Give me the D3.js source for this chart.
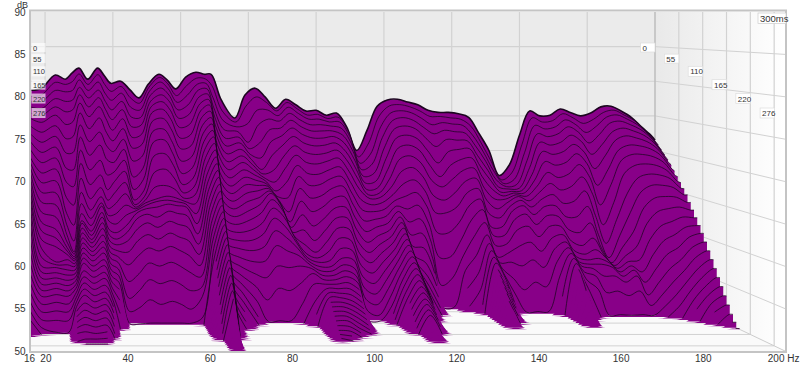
<!DOCTYPE html>
<html>

<head>
    <title>waterfall</title>
    <style>
        * {
            margin: 0;
            padding: 0;
        }
        body {
            background: #fff;
            overflow: hidden;
        }
        text {
            font-family: "Liberation Sans", Arial, sans-serif;
            fill: #333;
        }
    </style>
    <script src="https://cdn.jsdelivr.net/npm/d3@7"></script>
</head>

<body>
    <div id="chart"></div>

    <script>
        var dbTicks = [50, 55, 60, 65, 70, 75, 80, 85, 90];
        var freqTicks = [16, 20, 40, 60, 80, 100, 120, 140, 160, 180, 200];
        var gridFreqs = [20, 40, 60, 80, 100, 120, 140, 160, 180];
        var timeLabels = [0, 55, 110, 165, 220, 276];
        var sliceCount = 41;
        var freqs = [16, 19, 23, 26, 28, 30, 32.6, 35.5, 37.5, 39.4, 42.3, 45, 47.7, 50.5, 53.6, 56, 58.6, 61.5, 64.5, 67, 69, 72, 76, 79, 82, 85, 88, 91, 94, 97, 100, 103, 106, 109, 112, 115, 118, 121, 124, 127, 130, 133, 136, 139, 142, 145, 148, 151, 154, 157, 160, 163, 166, 169, 172, 175, 178, 181, 184, 187, 190, 193, 196, 199, 200];

        // one row per frequency, dB for each slice back to front, row stops when it drops under the floor
        var decayByFreq = [
            [78.7, 77.9, 77.2, 76.5, 75.7, 75, 74, 73, 72, 71, 70, 69.4, 68.8, 68.2, 67.6, 67, 66.4, 65.8, 65.2, 64.6, 64, 62.6, 61, 59.5, 58.2, 57, 56, 55, 54, 53, 52, 50.3],
            [79, 78.1, 77.2, 76.3, 75.4, 74.5, 73.2, 71.9, 70.6, 69.3, 68, 66.8, 65.6, 64.4, 63.2, 62, 61, 60, 59, 58, 57, 56.4, 55.8, 55.2, 54.6, 54, 53.2, 52.4, 51.6, 50.8, 50.1],
            [80.9, 79.9, 78.8, 77.7, 76.6, 75.5, 74.1, 72.7, 71.3, 69.9, 68.5, 67, 65.5, 64, 62.5, 61, 60, 59, 57.2, 57, 56.8, 56.3, 55.8, 55.3, 54.8, 54.2, 53.4, 52.5, 51.5, 50.2],
            [80.3, 79.6, 78.6, 77.3, 75.9, 74.2, 72.3, 70.4, 68.4, 66.6, 64.6, 62.6, 61.2, 60, 59.2, 58.6, 58.3, 58, 57.5, 57, 56.5, 56, 55.5, 55, 54.5, 54, 53.2, 52.4, 51.5, 50.2],
            [81.2, 80, 78.8, 77.5, 76.2, 74.6, 72.6, 70.5, 68.2, 66, 63.6, 61, 59, 57.7, 57.6, 57.4, 57.3, 57.2, 57, 56.8, 56.5, 56.2, 55.9, 55.6, 55.3, 55, 54.6, 54.2, 53.8, 53.4, 53, 52.5, 52, 51.5, 51, 50.2],
            [81.9, 81.1, 80.3, 79.3, 78.3, 77.2, 75.9, 74.3, 72.7, 71, 69.3, 67.4, 65.6, 64.2, 63, 62.2, 62, 61.5, 61, 60.5, 60, 59.5, 59, 58.5, 58, 57.2, 56.6, 56, 55.4, 54.8, 54, 53.3, 52.6, 51.9, 51.2, 50.5, 50.1],
            [80.3, 79.6, 78.8, 77.8, 76.6, 75.3, 73.7, 72, 70.2, 68.3, 66.4, 64.6, 63.2, 62.2, 61.4, 60.8, 60.4, 60, 59.7, 59.3, 58.9, 58.5, 58, 57.5, 57, 56.4, 55.8, 55.2, 54.6, 54, 53.4, 52.8, 52.2, 51.6, 51, 50.5, 50.1],
            [81.9, 81, 80, 78.9, 77.9, 76.7, 75.2, 73.3, 71.6, 69.6, 67.7, 66.1, 65, 64.3, 64, 63.3, 62.8, 62.2, 61.6, 60.9, 60.2, 59.6, 59, 58.3, 57.7, 57, 56.4, 55.7, 55, 54.4, 53.8, 53.2, 52.5, 51.8, 51.2, 50.6, 50.1],
            [80.8, 79.6, 78.4, 77.3, 76.2, 75, 73.2, 71.4, 69.6, 67.6, 65.7, 64.4, 63.4, 62.6, 62, 61, 60.4, 59.8, 59.2, 58.6, 58, 57.4, 56.8, 56.2, 55.6, 55, 54.4, 53.8, 53.2, 52.6, 52, 51.3, 50.6, 50.1],
            [79.7, 78.6, 77.4, 76.1, 74.8, 73.4, 72, 70.6, 69.2, 68, 66.8, 65.4, 64, 62.8, 61.6, 60.6, 59.9, 59.3, 58.7, 58.1, 57.5, 56.8, 56.1, 55.4, 54.7, 53.5, 52, 50.2],
            [80, 79.3, 78.4, 77.3, 76.2, 75, 73.7, 72.3, 71, 69.6, 68.2, 66.8, 65.4, 64, 62.8, 61.6, 60.8, 59.8, 58.5, 57, 55, 53, 51.5, 50.1],
            [78.8, 77.7, 76.4, 75.1, 73.8, 72.4, 71, 69.3, 67.2, 65.6, 64.3, 63.8, 63.6, 63.5, 63.4, 63.2, 62.6, 61.4, 60, 58.2, 56, 54, 52, 50.1],
            [77.6, 76.9, 76, 75, 74, 72.8, 71.5, 70, 68.4, 67, 65.6, 64.9, 64.5, 64.3, 64.1, 63.8, 63.2, 62.2, 60.8, 59.2, 57.4, 55.4, 53, 50.2],
            [79.6, 79.2, 78.7, 78.1, 77.4, 76.7, 75.9, 74.8, 73.5, 72.1, 70.3, 68.2, 66.3, 64.8, 64.6, 64, 62.8, 61.6, 60.2, 58.8, 57, 54.9, 52.4, 50.2],
            [81, 80.6, 80, 79.2, 78.3, 77.4, 76.4, 75.2, 73.8, 72.4, 70.6, 68.6, 66.5, 65.2, 64.8, 64.4, 63.6, 62.4, 61, 59.4, 57.5, 55.3, 52.8, 50.2],
            [80.2, 79.7, 79, 78.2, 77.3, 76.2, 75, 73.6, 72, 70.5, 69, 67.4, 66, 65, 64.6, 64.2, 63.3, 62, 60.5, 58.9, 57, 54.8, 52.4, 50.2],
            [78.9, 78, 77.1, 76.1, 75, 73.8, 72.4, 71, 69.4, 67.8, 66.4, 65.4, 64.8, 64.5, 64.3, 64, 63, 61.6, 60, 58.2, 56.2, 54, 51.8, 50.2],
            [80.6, 79.4, 78.1, 76.8, 75.5, 74.2, 72.8, 71.4, 70, 68.6, 67.3, 66.2, 65.2, 64.2, 63, 61.8, 60.6, 59.4, 58.2, 56.9, 55.6, 54.4, 53.4, 51, 50.1],
            [81.3, 80.5, 79.7, 78.9, 78, 77.1, 76.2, 75.3, 74.3, 73.3, 72.3, 71.3, 70.3, 69.3, 68.3, 67.4, 66.5, 65.6, 64.7, 63.8, 62.9, 62, 61.1, 60.2, 59.3, 58.4, 57.5, 56.6, 55.7, 54.8, 53.8, 52.8, 51.8, 50.8, 50.1],
            [81, 80.4, 79.8, 79.1, 78.4, 77.7, 77, 76.2, 75.4, 74.6, 73.8, 73, 72.2, 71.4, 70.6, 69.8, 69, 68.2, 67.4, 66.6, 65.8, 65, 64.3, 63.6, 62.9, 62.2, 61.5, 60.8, 60, 59.2, 58.4, 57.6, 56.8, 56, 55.2, 54.4, 53.6, 52.8, 52, 51.2, 50.4],
            [81, 79.4, 77.8, 76.4, 75.2, 74, 72.8, 71.6, 70.4, 69.2, 68, 66.9, 65.8, 64.7, 63.6, 62.5, 61.5, 60.5, 59.6, 58.8, 58, 57.3, 56.6, 55.9, 55.2, 54.5, 53.8, 53.1, 52.5, 51.9, 51.4, 50.9, 50.5, 50.2],
            [77.3, 75.8, 74.5, 73.3, 72.2, 71.2, 70.2, 69.2, 68.2, 67.2, 66.2, 65.3, 64.4, 63.5, 62.6, 61.7, 60.8, 59.9, 59, 58, 57, 56, 55, 54, 53, 52, 51, 50.2],
            [74.7, 74.2, 73.6, 73, 72.3, 71.6, 70.8, 70, 69.2, 68.3, 67.4, 66.5, 65.5, 64.5, 63.4, 62.3, 61.1, 59.9, 58.7, 57.4, 56, 54.5, 52.8, 51, 50.1],
            [78, 76.5, 74, 71.5, 70.7, 70, 69.4, 68.8, 68.2, 67.6, 67, 66.4, 65.8, 65, 64.2, 63.2, 62, 60.7, 59.2, 57.5, 55.5, 52.8, 50.2],
            [79, 77.8, 76, 74, 71.5, 69.5, 68, 67.5, 67.1, 66.8, 66.5, 66.3, 66.1, 65.9, 65.7, 65, 64, 62.8, 61.3, 59.5, 57, 54.3, 50.3],
            [77.7, 77, 76, 74.8, 73.4, 71.8, 70, 68, 66.5, 65.4, 64.8, 64.5, 64.3, 64.1, 63.9, 63.5, 62.8, 61.7, 60.4, 58.8, 56.8, 54, 50.3],
            [76.1, 75.8, 75.2, 74.5, 73.6, 72.6, 71.4, 70, 68.4, 66.6, 64.6, 62.8, 61.6, 61, 60.5, 60.2, 60, 59.6, 59, 58.2, 57, 55, 52.5, 50.1],
            [77.4, 77, 76.4, 75.6, 74.7, 73.7, 72.6, 71.4, 70.2, 68.9, 67.5, 66, 64.4, 62.7, 60.8, 59, 58, 57.6, 57.3, 57, 56.7, 56.2, 55, 53, 51.5, 50.1],
            [76.6, 76.1, 75.5, 74.7, 73.8, 72.8, 71.7, 70.5, 69.2, 67.8, 66.3, 64.7, 63, 61.2, 59.4, 58, 57.4, 57, 56.6, 56.2, 55.8, 55.4, 55, 54.6, 54.2, 53.8, 53.4, 53, 52.6, 52.2, 51.8, 51.4, 51, 50.7, 50.4, 50.1],
            [75.7, 75.2, 74.7, 74, 73.2, 72.3, 71.3, 70.2, 69, 67.7, 66.4, 65, 63.6, 62.2, 60.8, 59.4, 58.2, 57.2, 56.6, 56.2, 55.8, 55.4, 55, 54.6, 54.2, 53.8, 53.4, 53, 52.6, 52.2, 51.8, 51.3, 50.9, 50.5, 50.1],
            [75.8, 75.3, 74.7, 74, 73.2, 72.3, 71.4, 70.4, 69.4, 68.3, 67.2, 66, 64.8, 63.6, 62.4, 61.2, 60, 58.8, 57.7, 57, 56.4, 55.8, 55.2, 54.6, 54, 53.4, 52.9, 52.4, 51.9, 51.4, 50.9, 50.5, 50.1],
            [75.1, 74.7, 74.3, 73.8, 73.2, 72.5, 71.7, 70.8, 69.8, 68.7, 67.5, 66.3, 65, 63.7, 62.4, 61.1, 59.8, 58.6, 57.5, 56.5, 55.7, 55, 54.3, 53.6, 53, 52.4, 51.9, 51.4, 50.9, 50.5, 50.2],
            [75.4, 74.9, 74.3, 73.5, 72.6, 71.6, 70.5, 69.3, 68, 66.6, 65.2, 63.7, 62.2, 60.7, 59.2, 57.8, 56.4, 55.1, 53.8, 52.5, 51.2, 50.1],
            [73.4, 72.9, 72.2, 71.3, 70.3, 69.2, 68, 66.8, 65.5, 64.2, 62.9, 61.6, 60.3, 59, 57.8, 56.6, 55.4, 54.2, 53, 51.8, 50.6, 50.1],
            [70, 69.2, 68.4, 67.6, 66.8, 66, 65.2, 64.6, 64.2, 63.5, 62.7, 61.8, 60.9, 59.9, 58.9, 57.9, 56.9, 55.9, 54.9, 53.9, 52.9, 52, 51.2, 50.6, 50.1],
            [72.9, 71.2, 69.7, 68.4, 67.2, 66.2, 65.4, 64.8, 64.4, 63.8, 63, 62.2, 61.4, 60.6, 59.9, 59.2, 58.5, 57.9, 57.3, 56.7, 56.1, 55.5, 54.9, 54.3, 53.7, 53.1, 52.5, 51.9, 51.3, 50.7, 50.1],
            [76.4, 75, 73.6, 72.2, 70.8, 69.4, 68, 66.8, 65.8, 64.9, 64.2, 63.6, 63, 62.4, 61.8, 61.2, 60.6, 60, 59.4, 58.8, 58.2, 57.6, 57, 56.4, 55.8, 55.2, 54.6, 54, 53.5, 53, 52.5, 52, 51.6, 51.2, 50.8, 50.2],
            [77.3, 76.5, 75.6, 74.6, 73.5, 72.3, 71, 69.6, 68, 66.4, 64.8, 63.2, 61.6, 60, 58.6, 57.5, 56.8, 56.2, 55.8, 55.4, 55, 54.6, 54.2, 53.8, 53.4, 53, 52.5, 52, 51.5, 50.9, 50.2],
            [77.4, 76.7, 75.9, 75, 73.9, 72.7, 71.4, 70, 68.5, 66.9, 65.3, 63.7, 62, 60.2, 58.4, 56.6, 55, 53.8, 52.8, 52, 51.3, 50.7, 50.1],
            [77, 76.4, 75.6, 74.6, 73.5, 72.2, 70.7, 69, 67.2, 65.4, 63.4, 61.2, 59, 56.8, 55, 53.5, 52.2, 51, 50.1],
            [76.6, 75.8, 74.8, 73.6, 72.2, 70.5, 68.6, 66.6, 64.6, 62.4, 59.8, 56.6, 53, 50.2],
            [75.8, 75, 73.9, 72.7, 71, 68.8, 67, 65.7, 64, 62.4, 59.8, 56.7, 54, 50.3],
            [75.5, 75, 74.2, 73.2, 72, 70.4, 68.6, 66.8, 65, 63.2, 61.2, 59, 57, 55.2, 53, 50.8],
            [75.5, 74.8, 74, 73, 71.9, 70.7, 69.4, 68, 66.6, 65.2, 63.6, 61.8, 59.6, 57.2, 55, 53, 51.2, 50.2],
            [75.3, 74.6, 73.8, 72.8, 71.8, 70.8, 69.6, 68.3, 67, 65.7, 64.4, 63.1, 61.5, 60, 59, 58.2, 57.5, 56.9, 56.2, 55.6, 55, 54.4, 53.8, 53, 52.2, 51.2, 50.2],
            [74.8, 73.6, 72.3, 71, 69.7, 68.4, 67, 65.5, 64, 62.3, 60.6, 59.6, 58.4, 57, 56.4, 55.8, 55.1, 54.4, 53.7, 53, 52.4, 51.7, 50.9, 50.1],
            [72.5, 71.2, 70, 68.8, 67.6, 66.4, 65.2, 64, 62.8, 61.7, 60.6, 59.6, 58.6, 57.6, 56.5, 54.5, 52.5, 50.2],
            [70, 68.5, 67.3, 66.2, 65.3, 64.7, 64.3, 64, 63.7, 63.3, 62.8, 61.8, 60.5, 58.5, 56, 53, 50.2],
            [66.4, 65.9, 65.5, 65.2, 65, 64.8, 64.7, 64.6, 64.5, 64.1, 63.5, 62.5, 61, 59, 56.8, 54, 50.3],
            [67.9, 66.9, 66.1, 65.5, 65.1, 64.9, 64.7, 64.4, 63.9, 63.2, 62.3, 61.1, 59.6, 57.8, 55.8, 53.4, 50.3],
            [72.2, 71, 69.9, 68.9, 68, 67.2, 66.5, 65.8, 65.1, 64.3, 63.4, 62.3, 61, 59.6, 58.3, 56.8, 55, 52.5, 50.2],
            [75.7, 74.8, 73.8, 72.7, 71.6, 70.4, 69.1, 67.7, 66.3, 64.9, 63.5, 62.2, 61, 60, 59.2, 58.6, 58, 57.5, 57, 56.4, 55.8, 55, 54.2, 53.2, 52, 50.3],
            [75, 74.2, 73.3, 72.3, 71.2, 70, 68.6, 67, 65.4, 63.7, 62, 60.4, 59, 57.9, 57.2, 56.7, 56.3, 55.7, 54.8, 53.5, 51.5, 50.1],
            [75.1, 74.4, 73.6, 72.7, 71.6, 70.4, 69, 67.5, 65.9, 64, 62, 60, 58.4, 57.4, 56.8, 56.4, 56, 55.2, 53.6, 50.2],
            [76, 75.4, 74.6, 73.7, 72.6, 71.4, 70.2, 68.8, 67.2, 65.4, 63.4, 61.3, 59.4, 58, 57, 56.4, 55, 53, 50.2],
            [75.5, 74.8, 73.9, 72.9, 71.7, 70.3, 68.8, 67, 64.8, 62, 59.6, 58, 57.2, 56.8, 56.4, 56, 55, 53.2, 50.3],
            [75, 74, 72.8, 71.4, 69.9, 68, 65.8, 63.2, 60.6, 58.2, 56.4, 55.9, 55.7, 55.5, 55.2, 54.8, 54.2, 52.6, 50.2],
            [75.4, 74.6, 73.7, 72.6, 71.3, 69.8, 68, 66, 63.7, 61.5, 59.4, 58, 57, 56.4, 56, 55.6, 55, 53.2, 50.3],
            [76.3, 75.6, 75, 74.2, 73.1, 72, 70.7, 69.4, 67.7, 65.1, 62.6, 60.1, 58.2, 56.6, 55.2, 54, 52.5, 51.3, 50.2],
            [76.4, 75.9, 75.3, 74.5, 73.6, 72.6, 71.4, 70.2, 68.8, 67.2, 65.4, 63.4, 61.4, 59.4, 57.5, 55.8, 54.2, 52.7, 51.4, 50.2],
            [75.7, 75.2, 74.7, 74, 73.2, 72.3, 71.3, 70.2, 69, 67.7, 66.3, 64.7, 63, 61.2, 59.4, 57.7, 56, 54.4, 52.9, 51.6, 50.2],
            [74.8, 74.4, 73.9, 73.3, 72.6, 71.8, 70.9, 69.9, 68.8, 67.6, 66.3, 64.9, 63.4, 61.8, 60.2, 58.6, 57.2, 55.9, 54.7, 53.6, 52.6, 51.6, 50.2],
            [73.4, 73, 72.6, 72.1, 71.5, 70.8, 70, 69.1, 68.1, 67.1, 66, 64.8, 63.6, 62.4, 61.2, 60, 58.8, 57.6, 56.4, 55.3, 54.3, 53.4, 52.5, 51.6, 50.2],
            [72.1, 71.5, 70.9, 70.3, 69.7, 69, 68.2, 67.4, 66.6, 65.8, 65, 64.1, 63.2, 62.3, 61.4, 60.5, 59.5, 58.5, 57.5, 56.5, 55.5, 54.5, 53.5, 52.5, 51.5, 50.7, 50.1],
            [71.5, 70.9, 70.3, 69.7, 69.1, 68.5, 67.8, 67.1, 66.4, 65.7, 65, 64.1, 63.2, 62.3, 61.4, 60.5, 59.5, 58.5, 57.5, 56.5, 55.5, 54.5, 53.5, 52.5, 51.5, 50.7, 50.1]
        ];

        var width = 800;
        var height = 367;
        var floorDb = 50;
        var svg = d3.select("#chart").append("svg").attr("width", width).attr("height", height).style("display", "block");

        // back wall and front plane, depth goes 0 to 1 between them
        var xBack = d3.scaleLinear().domain([16, 200]).range([31.5, 655]);
        var xFront = d3.scaleLinear().domain([16, 200]).range([29, 785]);
        var yBack = d3.scaleLinear().domain([50, 90]).range([289, 12]);
        var yFront = d3.scaleLinear().domain([50, 90]).range([351, 12]);
        var depth = d3.scaleLinear().domain([0, 300]).range([0, 1]);
        var labelY = d3.scalePow().exponent(1.1).domain([0, 276]).range([47.5, 113]);

        function px(f, d) {
            return xBack(f) + (xFront(f) - xBack(f)) * d;
        }

        function py(db, d) {
            return yBack(db) + (yFront(db) - yBack(db)) * d;
        }

        function renderWalls() {
            var defs = svg.append("defs");
            var grad = defs.append("linearGradient").attr("id", "sideWall");
            grad.append("stop").attr("offset", "0%").attr("stop-color", "#e9e9e9");
            grad.append("stop").attr("offset", "100%").attr("stop-color", "#ffffff");

            svg.append("rect").attr("x", 31).attr("y", 12).attr("width", 624).attr("height", 277).attr("fill", "#ebebeb");
            svg.append("polygon").attr("fill", "url(#sideWall)")
                .attr("points", [[655, 12], [785, 12], [785, 351], [655, 289]].join(" "));
            svg.append("polygon").attr("fill", "#fafafa")
                .attr("points", [[31, 289], [655, 289], [785, 351], [31, 351]].join(" "));

            var gridColor = "#d2d2d2";
            gridFreqs.forEach(function(f) {
                svg.append("line").attr("x1", xBack(f)).attr("x2", xBack(f)).attr("y1", 12).attr("y2", yBack(50))
                    .attr("stroke", gridColor).attr("stroke-width", 1.2);
            });
            dbTicks.slice(1, -1).forEach(function(db) {
                svg.append("line").attr("x1", 31).attr("x2", 655).attr("y1", yBack(db)).attr("y2", yBack(db))
                    .attr("stroke", gridColor).attr("stroke-width", 1.2);
                svg.append("line").attr("x1", 655).attr("x2", 785).attr("y1", yBack(db)).attr("y2", yFront(db))
                    .attr("stroke", gridColor).attr("stroke-width", 1);
            });
            [55, 110, 165, 220, 275].forEach(function(t) {
                var d = depth(t);
                svg.append("line").attr("x1", px(200, d)).attr("x2", px(200, d)).attr("y1", 12).attr("y2", py(50, d))
                    .attr("stroke", gridColor).attr("stroke-width", 1.2);
                svg.append("line").attr("x1", 31).attr("x2", px(200, d)).attr("y1", py(50, d)).attr("y2", py(50, d))
                    .attr("stroke", gridColor).attr("stroke-width", 1);
            });
            svg.append("line").attr("x1", 655).attr("x2", 655).attr("y1", 12).attr("y2", 289)
                .attr("stroke", "#bdbdbd").attr("stroke-width", 1.5);
            svg.append("line").attr("x1", 655).attr("x2", 785).attr("y1", 289).attr("y2", 351)
                .attr("stroke", "#cccccc").attr("stroke-width", 1);
        }

        function renderSlices() {
            var group = svg.append("g").attr("class", "slices");
            d3.range(sliceCount).forEach(function(i) {
                var d = i / (sliceCount - 1);
                var points = freqs.map(function(f, n) {
                    var v = decayByFreq[n][i];
                    return { f: f, v: v === undefined ? floorDb : v, has: v !== undefined };
                });
                // monotone fill so it never dips under the floor, rounder curve for the line itself
                var area = d3.area().curve(d3.curveMonotoneX)
                    .x(function(p) { return px(p.f, d); })
                    .y0(py(floorDb, d))
                    .y1(function(p) { return py(p.v, d); });
                var line = d3.line().curve(d3.curveCatmullRom.alpha(0.5))
                    .defined(function(p) { return p.has; })
                    .x(function(p) { return px(p.f, d); })
                    .y(function(p) { return py(p.v, d); });

                group.append("path").attr("d", area(points)).attr("fill", "#880088");
                group.append("path").attr("d", line(points)).attr("fill", "none")
                    .attr("stroke", "#1c0620").attr("stroke-width", i === 0 ? 1.6 : 0.75);
            });
        }

        function renderAxes() {
            var yAxis = d3.axisLeft(yFront).tickValues(dbTicks).tickSize(0).tickPadding(0);
            var yg = svg.append("g").attr("transform", "translate(25.5,0)").call(yAxis);
            yg.select(".domain").remove();
            yg.selectAll("text").style("font-size", "10px").attr("x", 0);

            var xAxis = d3.axisBottom(xFront).tickValues(freqTicks).tickSize(0).tickPadding(0);
            var xg = svg.append("g").attr("transform", "translate(0,355)").call(xAxis);
            xg.select(".domain").remove();
            xg.selectAll("text").style("font-size", "10px").attr("y", 0);
            // last label carries the unit and is pushed back inside the window
            xg.selectAll(".tick").filter(function(f) { return f === 200; }).select("text")
                .text("200 Hz").attr("text-anchor", "end").attr("x", 14);

            svg.append("text").attr("x", 17).attr("y", 7.5).style("font-size", "9px").text("dB");

            // frame goes on top of the walls
            svg.append("rect").attr("x", 30).attr("y", 10.5).attr("width", 756).attr("height", 341.5)
                .attr("fill", "none").attr("stroke", "#c4c4c4").attr("stroke-width", 2);
        }

        function renderTimeLabels() {
            timeLabels.forEach(function(t, n) {
                var d = depth(t);
                var y = labelY(t);
                var boxH = n < 2 ? 9 : 10;

                // column on the left, faded over the surface
                svg.append("rect").attr("x", 31.5).attr("y", y - boxH / 2).attr("width", 14).attr("height", boxH)
                    .attr("fill", "#fff").attr("fill-opacity", 0.65);
                svg.append("text").attr("x", 33).attr("y", y + 3).style("font-size", "7.5px").text(t);

                // same labels stepping along the side wall
                var right = px(200, d);
                svg.append("rect").attr("x", right - 14.5).attr("y", y - boxH / 2).attr("width", 14.5).attr("height", boxH)
                    .attr("fill", "#fff").attr("stroke", "#ddd").attr("stroke-width", 0.7);
                svg.append("text").attr("x", right - 12.5).attr("y", y + 3).style("font-size", "8px").text(t);
            });

            svg.append("rect").attr("x", 758).attr("y", 13).attr("width", 28).attr("height", 10.5)
                .attr("fill", "#fff").attr("stroke", "#ccc").attr("stroke-width", 0.7);
            svg.append("text").attr("x", 760).attr("y", 21.5).style("font-size", "9.5px").text("300ms");
        }

        renderWalls();
        renderSlices();
        renderAxes();
        renderTimeLabels();
    </script>
</body>

</html>
